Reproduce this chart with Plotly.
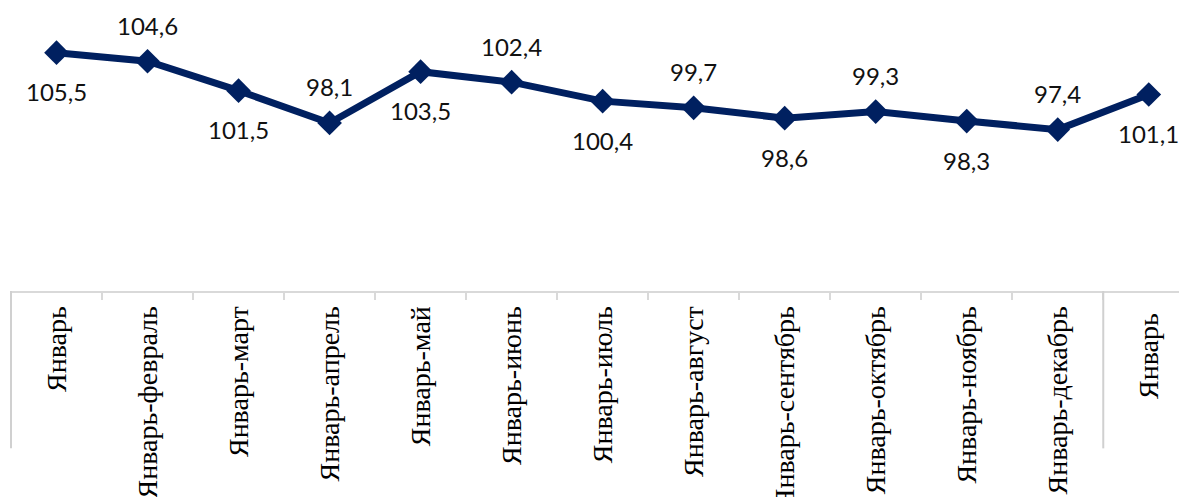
import plotly.graph_objects as go

# Data
categories = ["Январь", "Январь-февраль", "Январь-март", "Январь-апрель", "Январь-май",
              "Январь-июнь", "Январь-июль", "Январь-август", "Январь-сентябрь",
              "Январь-октябрь", "Январь-ноябрь", "Январь-декабрь", "Январь"]
values = [105.5, 104.6, 101.5, 98.1, 103.5, 102.4, 100.4, 99.7, 98.6, 99.3, 98.3, 97.4, 101.1]
group_breaks = [0, 12]  # index where a new year group starts
label_side = ["below", "above", "below", "above", "below", "above", "below",
              "above", "below", "above", "below", "above", "below"]

# unique keys so duplicate category names stay separate (trailing spaces render invisibly)
keys = []
seen = {}
for c in categories:
    n = seen.get(c, 0)
    keys.append(c + " " * n)
    seen[c] = n + 1

color = "#002060"
x_range = [-0.5, len(categories) - 0.58]
y_range = [80.4, 110.0]

fig = go.Figure()
fig.add_trace(go.Scatter(
    x=keys, y=values, mode="lines+markers",
    line=dict(color=color, width=7),
    marker=dict(symbol="diamond", size=19, color=color),
    hoverinfo="skip",
))

for k, v, side in zip(keys, values, label_side):
    fig.add_annotation(
        x=k, y=v, xref="x", yref="y",
        text=f"{v:.1f}".replace(".", ","),
        showarrow=False,
        yshift=36 if side == "above" else -39,
        font=dict(family="Lato", size=24, color="#111111"),
    )

span = x_range[1] - x_range[0]
for gb in group_breaks:
    xp = (gb - 0.5 - x_range[0]) / span
    fig.add_shape(type="line", xref="paper", yref="paper",
                  x0=xp, x1=xp, y0=0, y1=-0.56,
                  line=dict(color="#d0d0d0", width=2))

# page body has an 8px default margin, so the figure is sized to fit inside it
fig.update_layout(
    width=1179, height=489,
    margin=dict(l=3, r=0, t=2, b=206, autoexpand=False),
    paper_bgcolor="white", plot_bgcolor="white",
    showlegend=False,
    xaxis=dict(
        type="category", range=x_range, automargin=False,
        tickson="boundaries", ticks="outside", ticklen=7, tickwidth=2, tickcolor="#d9d9d9",
        showline=True, linecolor="#d9d9d9", linewidth=2,
        showgrid=False, zeroline=False,
        tickangle=-90,
        tickfont=dict(family="Liberation Serif", size=28, color="#000000"),
        ticklabelstandoff=2,
    ),
    yaxis=dict(range=y_range, visible=False, showgrid=False, zeroline=False, automargin=False),
)

fig.write_html("out.html")
